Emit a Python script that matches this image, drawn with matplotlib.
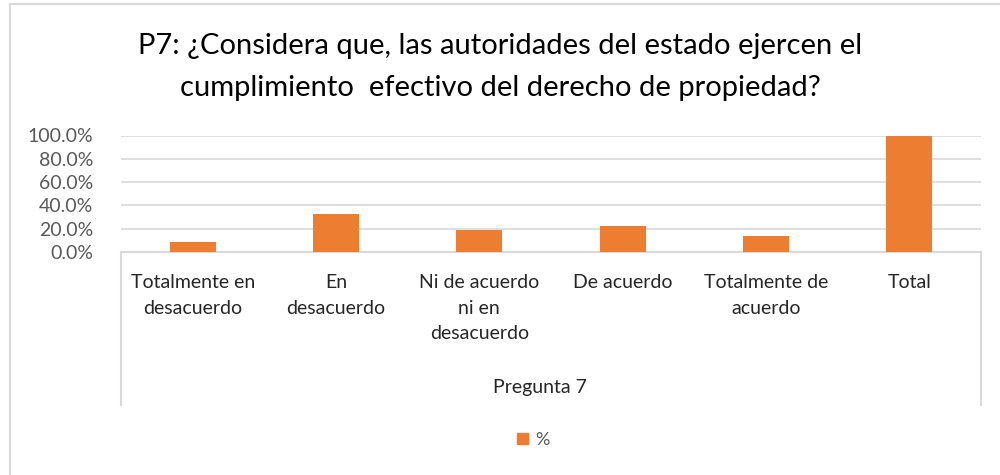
"""
Bar chart for P7 survey answers (Pregunta 7)
"""
import matplotlib
import matplotlib.pyplot as plt
from matplotlib.lines import Line2D
from matplotlib.ticker import FuncFormatter

matplotlib.use("Agg")

plt.rcParams["font.family"] = ["Lato", "DejaVu Sans"]

title = ("P7: ¿Considera que, las autoridades del estado ejercen el\n"
         "cumplimiento  efectivo del derecho de propiedad?")
categories = [
    "Totalmente en\ndesacuerdo",
    "En\ndesacuerdo",
    "Ni de acuerdo\nni en\ndesacuerdo",
    "De acuerdo",
    "Totalmente de\nacuerdo",
    "Total",
]
percent = [8.9, 33.0, 19.2, 22.6, 14.0, 100.0]
group_label = "Pregunta 7"
series_name = "%"

bar_color = "#ED7D31"
grid_color = "#D9D9D9"
W, H = 1000, 475

fig = plt.figure(figsize=(10, 4.75), dpi=100)

# outer chart frame (right/bottom edges fall outside the picture)
fig.add_artist(Line2D([10 / W, 1], [1 - 4 / H, 1 - 4 / H], color=grid_color, lw=1.5))
fig.add_artist(Line2D([10 / W, 10 / W], [0, 1 - 4 / H], color=grid_color, lw=1.5))

left, right, base, top = 121, 981, 252, 135.5
ax = fig.add_axes([left / W, 1 - base / H, (right - left) / W, (base - top) / H])

x = range(len(categories))
ax.bar(x, percent, width=0.32, color=bar_color, zorder=3)
ax.set_xlim(-0.5, len(categories) - 0.5)
ax.set_ylim(0, 100)
ax.set_yticks(range(0, 101, 20))
ax.yaxis.set_major_formatter(FuncFormatter(lambda v, _: f"{v:.1f}%"))
ax.grid(axis="y", color=grid_color, lw=1.2, zorder=0)

for side in ("top", "right", "left"):
    ax.spines[side].set_visible(False)
ax.spines["bottom"].set_color(grid_color)
ax.spines["bottom"].set_linewidth(1.5)

ax.set_xticks(list(x))
ax.set_xticklabels(categories, fontsize=14, color="#262626", linespacing=1.6,
                   va="top")
ax.tick_params(axis="x", length=0, pad=16)
ax.tick_params(axis="y", length=0, pad=20, labelsize=14, labelcolor="#595959")

# multi-level category box lines
for px in (left, right):
    fig.add_artist(Line2D([px / W, px / W], [1 - base / H, 1 - 405 / H],
                          color=grid_color, lw=1.5))

fig.text(540 / W, 1 - 388 / H, group_label, ha="center", va="center",
         fontsize=14, color="#262626")

fig.text(500 / W, 1 - 67 / H, title, ha="center", va="center", fontsize=21,
         color="#000000", linespacing=1.75)

handle = plt.Rectangle((0, 0), 1, 1, color=bar_color)
fig.legend([handle], [series_name], loc="center", bbox_to_anchor=(533 / W, 1 - 440 / H),
           frameon=False, handlelength=0.6, handleheight=0.6, handletextpad=0.4,
           prop={"size": 13}, labelcolor="#595959")

fig.savefig("out.png", dpi=100, facecolor="white")
